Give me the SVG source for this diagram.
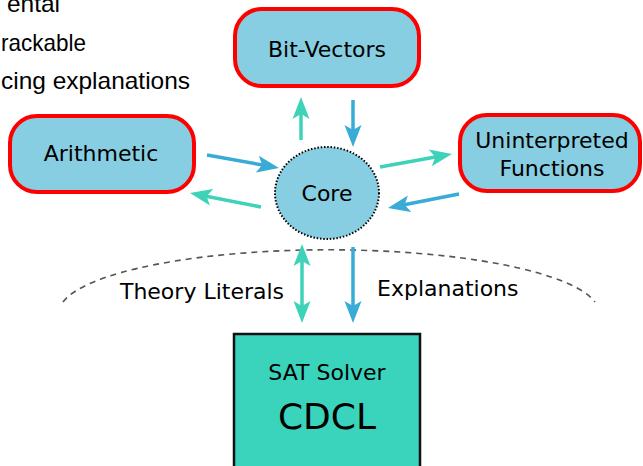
<svg xmlns="http://www.w3.org/2000/svg" width="643" height="466" viewBox="0 0 643 466">
<style>
text{font-family:"DejaVu Sans","Liberation Sans",sans-serif;fill:#000}
.side{font-family:"Liberation Sans",Arial,sans-serif;font-size:24px}
.lbl{font-size:22px;text-anchor:middle}
.th{fill:#87CEE2;stroke:#FF0000;stroke-width:4}
.teal{stroke:#3ED3B8;stroke-width:3.5;fill:none}
.blue{stroke:#38ABD6;stroke-width:3.5;fill:none}
</style>
<defs>
<marker id="ht" markerUnits="userSpaceOnUse" markerWidth="24" markerHeight="20" viewBox="0 -10 24 20" refX="8" refY="0" orient="auto-start-reverse">
<path d="M22,0 L0,-8.5 L5,0 L0,8.5 Z" fill="#3ED3B8"/>
</marker>
<marker id="hb" markerUnits="userSpaceOnUse" markerWidth="24" markerHeight="20" viewBox="0 -10 24 20" refX="8" refY="0" orient="auto">
<path d="M22,0 L0,-8.5 L5,0 L0,8.5 Z" fill="#38ABD6"/>
</marker>
</defs>
<rect width="643" height="466" fill="#fff"/>
<g id="side-text">
<text class="side" x="7" y="12" textLength="53" lengthAdjust="spacingAndGlyphs">ental</text>
<text class="side" x="1" y="51" textLength="85" lengthAdjust="spacingAndGlyphs">rackable</text>
<text class="side" x="1" y="89" textLength="189" lengthAdjust="spacingAndGlyphs">cing explanations</text>
</g>
<path id="boundary" d="M63,302 A270,63 0 0 1 595,302" fill="none" stroke="#555" stroke-width="1.6" stroke-dasharray="6,5"/>
<g id="bitvectors">
<rect class="th" x="235" y="9" width="184" height="77" rx="27"/>
<text class="lbl" x="327" y="57">Bit-Vectors</text>
</g>
<g id="arithmetic">
<rect class="th" x="10" y="116" width="184" height="76" rx="27"/>
<text class="lbl" x="101" y="161">Arithmetic</text>
</g>
<g id="uf">
<rect class="th" x="460" y="115" width="180" height="76" rx="27"/>
<text class="lbl" x="552" y="148">Uninterpreted</text>
<text class="lbl" x="552" y="176">Functions</text>
</g>
<g id="core">
<ellipse cx="327" cy="193" rx="52" ry="46" fill="#87CEE2" stroke="#000" stroke-width="2" stroke-dasharray="1.5,1.8"/>
<text class="lbl" x="327" y="201">Core</text>
</g>
<g id="sat">
<rect x="234" y="334" width="186" height="140" fill="#3AD4BC" stroke="#111" stroke-width="2.5"/>
<text class="lbl" x="327" y="380">SAT Solver</text>
<text x="327" y="429" text-anchor="middle" font-size="36">CDCL</text>
</g>
<g id="connectors">
<line class="teal" x1="301" y1="140" x2="301" y2="111" marker-end="url(#ht)"/>
<line class="blue" x1="353" y1="100" x2="353" y2="133" marker-end="url(#hb)"/>
<line class="blue" x1="207" y1="155" x2="265.2" y2="165.5" marker-end="url(#hb)"/>
<line class="teal" x1="261" y1="207" x2="203.7" y2="195.7" marker-end="url(#ht)"/>
<line class="teal" x1="380" y1="167" x2="438.2" y2="156.5" marker-end="url(#ht)"/>
<line class="blue" x1="459" y1="194" x2="401.7" y2="205.3" marker-end="url(#hb)"/>
<line class="teal" x1="302" y1="258" x2="302" y2="309" marker-start="url(#ht)" marker-end="url(#ht)"/>
<line class="blue" x1="353" y1="247" x2="353" y2="309" marker-end="url(#hb)"/>
</g>
<g id="labels">
<text class="lbl" x="202" y="299">Theory Literals</text>
<text x="377" y="296" font-size="22">Explanations</text>
</g>
</svg>
